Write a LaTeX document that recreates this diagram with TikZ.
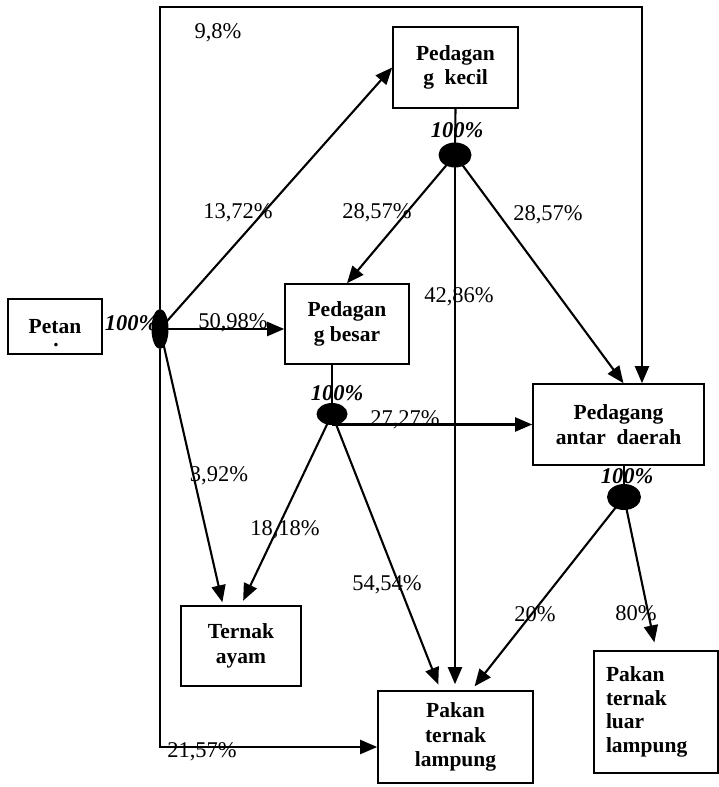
\documentclass[tikz,border=0pt]{standalone}
\usepackage{fontspec}
\setmainfont{Liberation Serif}
\usetikzlibrary{arrows.meta,calc,shapes.geometric}
\begin{document}
\begin{tikzpicture}[x=1pt,y=1pt,
  box/.style={draw,line width=1.6pt,fill=white,inner sep=0pt,
    font=\fontsize{21.5}{24.5}\selectfont\bfseries,align=center},
  hub/.style={ellipse,fill=black,inner sep=0pt},
  pct/.style={font=\fontsize{22.5}{26}\selectfont,inner sep=0pt},
  hpct/.style={font=\fontsize{22.5}{26}\selectfont\bfseries\itshape,inner sep=0pt},
  conn/.style={line width=2.1pt,-{Triangle[length=17pt,width=14pt]}},
  plain/.style={line width=2.1pt}]
\useasboundingbox (0,0) rectangle (719,-787);

% boxes
\node[box,minimum width=94pt,minimum height=55pt,text depth=0pt] (petani) at (55,-326.5) {Petan};
\node[font=\fontsize{21.5}{24.5}\selectfont\bfseries,inner sep=0pt,anchor=base] (petdot) at (56,-346) {.};
\node[box,minimum width=125pt,minimum height=81pt] (kecil) at (455.5,-67.5) {Pedagan\\g\ \ kecil};
\node[box,minimum width=124pt,minimum height=80pt] (besar) at (347,-324) {Pedagan\\g besar};
\node[box,minimum width=171pt,minimum height=81pt] (antar) at (618.5,-424.5) {Pedagang\\antar\ \ daerah};
\node[box,minimum width=120pt,minimum height=80pt] (ayam) at (241,-646) {Ternak\\ayam};
\node[box,minimum width=155pt,minimum height=92pt] (pl) at (455.5,-737) {Pakan\\ternak\\lampung};
\node[box,minimum width=124pt,minimum height=122pt,align=left,text width=100pt,
  font=\fontsize{21.5}{23.5}\selectfont\bfseries] (luar) at (656,-712) {Pakan\\ternak\\luar\\lampung};

% hubs
\node[hub,minimum width=17pt,minimum height=40pt] (hp) at (160,-329) {};
\node[hub,minimum width=33pt,minimum height=25pt] (hk) at (455,-155) {};
\node[hub,minimum width=31pt,minimum height=22pt] (hb) at (332,-414) {};
\node[hub,minimum width=34pt,minimum height=26pt] (ha) at (624,-497) {};

\coordinate (tl) at (160,-7);
\coordinate (tr) at (642,-7);
\coordinate (bl) at (160,-747);

% connectors from petani hub
\draw[conn] (hp.north) -- (tl) -- (tr) -- (tr |- antar.north);
\draw[conn] (hp.south) -- (bl) -- (bl -| pl.west);
\draw[conn] (hp.center) -- (kecil.west);
\draw[conn] (hp.center) -- (hp.center -| besar.west);
\draw[conn,shorten >=3pt] (hp.center) -- ($(ayam.north)+(-18,0)$);

% from kecil
\draw[plain] (kecil.south) -- (hk.center);
\draw[conn] (hk.center) -- (besar.north);
\draw[conn,shorten >=6pt] (hk.center) -- (hk.center |- pl.north);
\draw[conn] (hk.center) -- ($(antar.north)+(5,0)$);

% from besar
\draw[plain] (besar.south -| hb.center) -- (hb.center);
\draw[conn] (hb.center |- antar.west) -- (antar.west);
\draw[conn,shorten >=5pt] (hb.center) -- (ayam.north);
\draw[conn,shorten >=6pt] (hb.center) -- ($(pl.north)+(-15,0)$);

% from antar
\draw[plain] (antar.south -| ha.center) -- (ha.center);
\draw[conn,shorten >=5pt] (ha.center) -- ($(pl.north)+(16,0)$);
\draw[conn,shorten >=8pt] (ha.center) -- (luar.north);

% hub labels
\node[hpct] (t100p) at (131,-323) {100\%};
\node[hpct] (t100k) at (457,-130) {100\%};
\node[hpct] (t100b) at (337,-393) {100\%};
\node[hpct] (t100a) at (627,-476) {100\%};

% percentages
\node[pct] (t98) at (218,-33) {9,8\%};
\node[pct] (t1372) at (238,-213) {13,72\%};
\node[pct] (t2857a) at (377,-213) {28,57\%};
\node[pct] (t2857b) at (548,-215) {28,57\%};
\node[pct] (t4286) at (459,-297) {42,86\%};
\node[pct] (t5098) at (233,-323) {50,98\%};
\node[pct] (t2727) at (405,-420) {27,27\%};
\node[pct] (t392) at (219,-476) {3,92\%};
\node[pct] (t1818) at (285,-530) {18,18\%};
\node[pct] (t5454) at (387,-585) {54,54\%};
\node[pct] (t20) at (535,-614) {20\%};
\node[pct] (t80) at (636,-613) {80\%};
\node[pct] (t2157) at (202,-752) {21,57\%};
\end{tikzpicture}
\end{document}
